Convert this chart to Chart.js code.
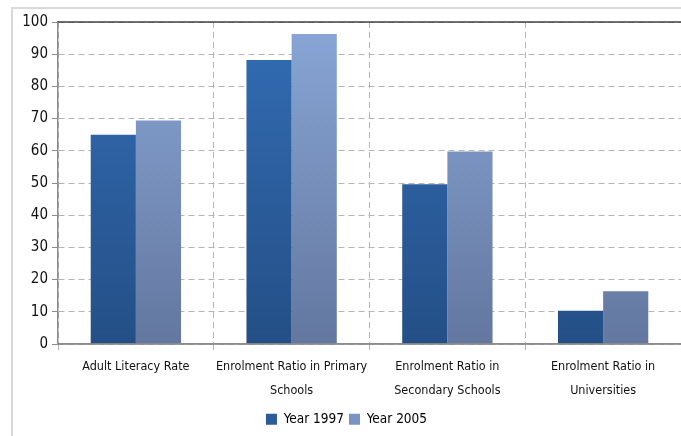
<!DOCTYPE html>
<html>
<head>
<meta charset="utf-8">
<script src="https://cdn.jsdelivr.net/npm/chart.js@4/dist/chart.umd.min.js"></script>
<style>
  html, body { margin: 0; padding: 0; background: #fff; }
  #wrap { position: relative; width: 681px; height: 436px; overflow: hidden; }
  #frame { position: absolute; left: 11px; top: 7px; width: 700px; height: 460px;
           border-left: 2px solid #d9d9d9; border-top: 2px solid #d9d9d9; }
  canvas { position: absolute; left: 0; top: 0; }
</style>
</head>
<body>
<div id="wrap">
  <div id="frame"></div>
  <canvas id="grafico" width="681" height="436"></canvas>
</div>
<script>
// categorias e séries
const categorias = [
    ['Adult Literacy Rate'],
    ['Enrolment Ratio in Primary', 'Schools'],
    ['Enrolment Ratio in', 'Secondary Schools'],
    ['Enrolment Ratio in', 'Universities']
];
const ano1997 = [65, 88.2, 49.6, 10.3];
const ano2005 = [69.4, 96.3, 59.8, 16.4];
const rotulosSeries = ['Year 1997', 'Year 2005'];
const eixoY = { min: 0, max: 100, passo: 10 };

const fonte = "'DejaVu Sans Condensed', 'Liberation Sans', sans-serif";

function gradiente(ctx, topo, base) {
    const area = ctx.chart.chartArea;
    if (!area) return topo;
    const g = ctx.chart.ctx.createLinearGradient(0, area.top, 0, area.bottom);
    g.addColorStop(0, topo);
    g.addColorStop(1, base);
    return g;
}

// linha escura no topo e eixo x contínuo
const linhaTopo = {
    id: 'linhaTopo',
    afterDatasetsDraw(chart) {
        const { ctx, chartArea } = chart;
        ctx.save();
        ctx.strokeStyle = '#404040';
        ctx.lineWidth = 1.5;
        ctx.beginPath();
        ctx.moveTo(chartArea.left, chartArea.top);
        ctx.lineTo(chartArea.right + 2, chartArea.top);
        ctx.stroke();
        ctx.strokeStyle = '#8c8c8c';
        ctx.beginPath();
        ctx.moveTo(chartArea.left, chartArea.bottom);
        ctx.lineTo(chartArea.right + 2, chartArea.bottom);
        ctx.stroke();
        ctx.restore();
    }
};

const grafico = new Chart(document.getElementById('grafico'), {
    type: 'bar',
    data: {
        labels: categorias,
        datasets: [{
            label: rotulosSeries[0],
            data: ano1997,
            backgroundColor: ctx => gradiente(ctx, '#336db5', '#244f86'),
            borderWidth: 0
        }, {
            label: rotulosSeries[1],
            data: ano2005,
            backgroundColor: ctx => gradiente(ctx, '#89a6d6', '#63779f'),
            borderWidth: 0
        }]
    },
    options: {
        responsive: false,
        animation: false,
        layout: { padding: { left: 12, right: 0, top: 22, bottom: 0 } },
        datasets: { bar: { categoryPercentage: 0.58, barPercentage: 1 } },
        plugins: {
            tooltip: { enabled: false },
            legend: {
                position: 'bottom',
                labels: {
                    boxWidth: 11, boxHeight: 11, padding: 5,
                    color: '#111',
                    font: { family: fonte, size: 13.5 },
                    generateLabels(chart) {
                        const cores = ['#2b5b98', '#7b93c2'];
                        return chart.data.datasets.map((d, i) => ({
                            text: d.label, fillStyle: cores[i], strokeStyle: cores[i],
                            lineWidth: 0, datasetIndex: i, hidden: false
                        }));
                    }
                }
            }
        },
        scales: {
            x: {
                offset: true,
                grid: {
                    offset: true,
                    color: '#b5b5b5',
                    lineWidth: 1,
                    tickLength: 6,
                    tickColor: '#b5b5b5'
                },
                border: { display: true, color: '#8c8c8c', width: 1.5, dash: [6, 4] },
                ticks: {
                    autoSkip: false,
                    color: '#111',
                    padding: 5,
                    maxRotation: 0,
                    font: { family: fonte, size: 12.5, lineHeight: 1.9 }
                }
            },
            y: {
                min: eixoY.min, max: eixoY.max,
                afterFit(scale) { scale.width = 46; },
                grid: {
                    color: '#b5b5b5',
                    lineWidth: 1,
                    tickLength: 6,
                    tickColor: '#8c8c8c',
                    drawOnChartArea: true
                },
                border: { display: true, color: '#8c8c8c', width: 1.5, dash: [6, 4] },
                ticks: {
                    stepSize: eixoY.passo,
                    color: '#111',
                    padding: 4,
                    font: { family: fonte, size: 15 }
                }
            }
        }
    },
    plugins: [linhaTopo]
});
</script>
</body>
</html>
